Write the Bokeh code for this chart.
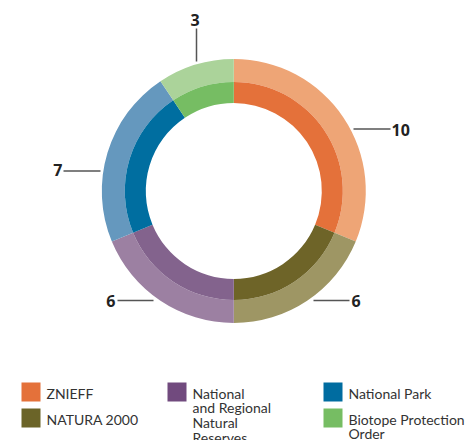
import math
from bokeh.plotting import figure
from bokeh.models import Range1d, ColumnDataSource
from bokeh.core.properties import value
from bokeh.embed import file_html
from bokeh.resources import INLINE

# ---- data ----
categories = ["ZNIEFF", "NATURA 2000", "National and Regional Natural Reserves",
              "National Park", "Biotope Protection Order"]
counts = [10, 6, 6, 7, 3]
dark_colors = ["#E4713A", "#6E6428", "#83638D", "#006EA0", "#76BD63"]
light_colors = ["#EEA576", "#9E9664", "#9C80A2", "#6598BE", "#ABD39A"]
legend_colors = ["#E4713A", "#6B6428", "#714A7E", "#006CA0", "#76BD63"]
legend_lines = [["ZNIEFF"], ["NATURA 2000"],
                ["National", "and Regional", "Natural", "Reserves"],
                ["National Park"], ["Biotope Protection", "Order"]]

# ---- layout ----
W, H = 467, 440
cx, cy = 233.3, H - 190.5
r_hole, r_mid, r_out = 88, 109, 132

p = figure(width=W, height=H, x_range=Range1d(0, W), y_range=Range1d(0, H),
           output_backend="svg", toolbar_location=None, min_border=0)
p.axis.visible = False
p.grid.visible = False
p.outline_line_color = None
p.background_fill_color = "white"
p.border_fill_color = "white"

total = sum(counts)
starts, ends = [], []
acc = 0
for c in counts:
    starts.append(math.pi / 2 - 2 * math.pi * acc / total)
    acc += c
    ends.append(math.pi / 2 - 2 * math.pi * acc / total)

src = ColumnDataSource(dict(x=[cx] * len(counts), y=[cy] * len(counts),
                            start=starts, end=ends, dark=dark_colors, light=light_colors))
p.annular_wedge(x="x", y="y", inner_radius=r_mid, outer_radius=r_out,
                start_angle="start", end_angle="end", direction="clock",
                fill_color="light", line_color=None, source=src)
p.annular_wedge(x="x", y="y", inner_radius=r_hole, outer_radius=r_mid,
                start_angle="start", end_angle="end", direction="clock",
                fill_color="dark", line_color=None, source=src)

# leader lines (pixel layout, top-left origin): x0, y0, x1, y1, text x, text y, align
leaders = [
    (353, 128.5, 390, 128.5, 391, 129, "left"),
    (313, 300, 349, 300, 351, 300, "left"),
    (117, 300, 153, 300, 115, 300, "right"),
    (63, 170.5, 100, 170.5, 62, 169, "right"),
    (196, 28, 196, 61, 194.5, 19, "center"),
]
for (x0, y0, x1, y1, tx, ty, al), v in zip(leaders, counts):
    p.line([x0, x1], [H - y0, H - y1], line_color="#555555", line_width=1.5)
    p.text(x=[tx], y=[H - ty], text=[str(v)], text_align=al, text_baseline="middle",
           text_font=value("Open Sans"), text_font_style="bold",
           text_font_size="16px", text_color="#222222")

# legend (pixel layout)
legend_pos = [(21, 382), (21, 408), (167, 382), (323, 382), (323, 408)]
line_h = 14.8
for (sx, sy), col, lines in zip(legend_pos, legend_colors, legend_lines):
    p.rect(x=[sx + 9.5], y=[H - (sy + 9.5)], width=19, height=19,
           fill_color=col, line_color=None)
    for k, t in enumerate(lines):
        p.text(x=[sx + 25], y=[H - (sy + 10.5 + k * line_h)], text=[t],
               text_align="left", text_baseline="alphabetic",
               text_font=value("Lato"), text_font_size="14px", text_color="#333333")

open("out.html", "w").write(file_html(p, INLINE))
